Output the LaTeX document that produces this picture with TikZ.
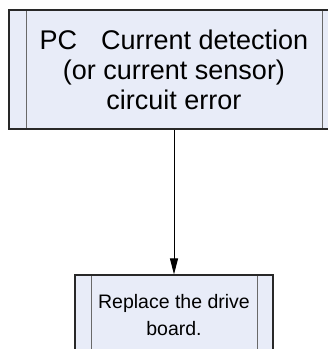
\documentclass[tikz,border=0pt]{standalone}
\usepackage{fontspec}
\setmainfont{Liberation Sans}
\usepackage{tikz}
\usetikzlibrary{positioning,calc}
\usetikzlibrary{arrows.meta}
\definecolor{BoxFill}{RGB}{232,236,248}
\definecolor{BoxEdge}{RGB}{40,40,40}
\definecolor{SideGray}{RGB}{105,105,105}
\tikzset{
  proc/.style={draw=BoxEdge,fill=BoxFill,line width=1.2pt,inner sep=0pt,align=center,
    path picture={
      \draw[SideGray,line width=1pt]
        ([xshift=#1]path picture bounding box.north west) -- ([xshift=#1]path picture bounding box.south west)
        ([xshift=-#1]path picture bounding box.north east) -- ([xshift=-#1]path picture bounding box.south east);
    }},
  proc/.default=16.5pt,
  link/.style={draw=black,line width=0.9pt,-{Triangle[length=16pt,width=8pt]}},
}

\begin{document}
\begin{tikzpicture}[x=1pt,y=1pt]
\useasboundingbox (0,0) rectangle (328,-349);
\clip (0,0) rectangle (328,-349);
\node[proc=17pt,minimum width=330pt,minimum height=119pt,font=\fontsize{27}{30}\selectfont]
  (fault) at (174,-69.5) {PC\hspace{24pt}Current detection\\(or current sensor)\\circuit error};
\node[proc=16pt,minimum width=198pt,minimum height=80pt,font=\fontsize{19.5}{27}\selectfont]
  (fix) at (174,-315) {Replace the drive\\board.};
\draw[link] (fault) -- (fix);
\end{tikzpicture}
\end{document}
